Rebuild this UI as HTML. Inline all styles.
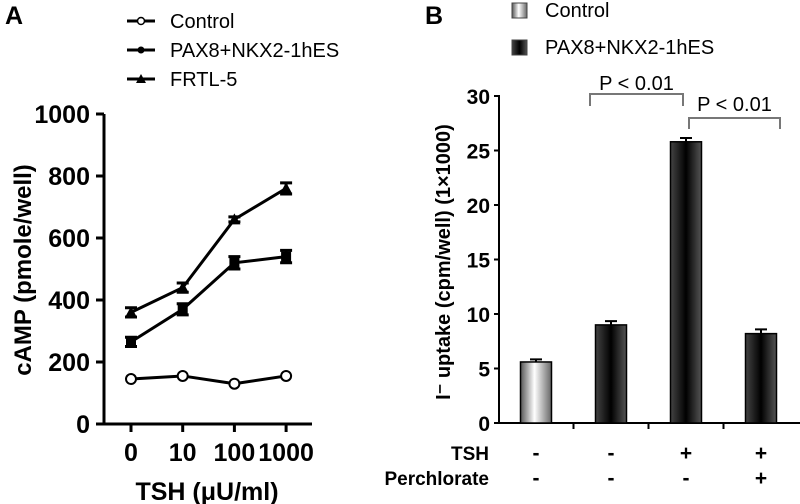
<!DOCTYPE html>
<html><head><meta charset="utf-8"><style>
body{margin:0;background:#fff;}
svg{display:block;font-family:"Liberation Sans",Arial,sans-serif;}
</style></head><body>
<svg id="s" width="800" height="504" viewBox="0 0 800 504">
<defs>
<linearGradient id="gc" x1="0" x2="1"><stop offset="0" stop-color="#555"/><stop offset="0.45" stop-color="#fff"/><stop offset="1" stop-color="#666"/></linearGradient>
<linearGradient id="gp" x1="0" x2="1"><stop offset="0" stop-color="#444"/><stop offset="0.5" stop-color="#000"/><stop offset="1" stop-color="#555"/></linearGradient>
</defs>
<text x="5" y="24" font-size="25" font-weight="bold">A</text>
<text x="425" y="24" font-size="25" font-weight="bold">B</text>
<g id="A"></g>
<g id="B"></g>
</svg>
<script>
const NS="http://www.w3.org/2000/svg";
function mk(p,t,a,txt){const e=document.createElementNS(NS,t);for(const k in a)e.setAttribute(k,a[k]);if(txt!=null)e.textContent=txt;p.appendChild(e);return e;}
// Panel A data
const xCats=["0","10","100","1000"];
const seriesNames=["Control","PAX8+NKX2-1hES","FRTL-5"];
const controlVals=[145,155,130,155];
const paxVals=[265,370,520,540];
const frtlVals=[360,440,660,760];
const paxErr=[15,18,20,20];
const frtlErr=[15,15,8,18];
const yTicksA=[0,200,400,600,800,1000];
// Panel B data
const barCats=["c1","c2","c3","c4"];
const barVals=[5.6,9.0,25.8,8.2];
const barErr=[0.15,0.25,0.25,0.3];
const barGroup=["control","pax","pax","pax"];
const tshSigns=["-","-","+","+"];
const perchSigns=["-","-","-","+"];
const yTicksB=[0,5,10,15,20,25,30];

const A=document.getElementById('A');
const yA=v=>424-v*0.31;
const xA=i=>131+i*51.7;
let el;
el=mk(A,'line',{x1:104,y1:114,x2:104,y2:425,stroke:'#000','stroke-width':3});

el=mk(A,'line',{x1:103,y1:424,x2:312,y2:424,stroke:'#000','stroke-width':3});

yTicksA.forEach(v=>{
 el=mk(A,'line',{x1:96,y1:yA(v),x2:104,y2:yA(v),stroke:'#000','stroke-width':3});
 
 el=mk(A,'text',{x:90,y:yA(v)+9,'font-size':25,'font-weight':'bold','text-anchor':'end'},String(v));
 
});
xCats.forEach((c,i)=>{
 el=mk(A,'line',{x1:xA(i),y1:424,x2:xA(i),y2:432,stroke:'#000','stroke-width':3});
 
 el=mk(A,'text',{x:xA(i),y:461,'font-size':25,'font-weight':'bold','text-anchor':'middle'},c);
 
});
el=mk(A,'text',{x:207,y:500,'font-size':25,'font-weight':'bold','text-anchor':'middle'},'TSH (\u03bcU/ml)');

el=mk(A,'text',{x:0,y:0,'font-size':24,'font-weight':'bold','text-anchor':'middle',transform:'translate(31,270) rotate(-90)'},'cAMP (pmole/well)');

function marker(g,kind,x,y){
 if(kind==0)return mk(g,'circle',{cx:x,cy:y,r:5,fill:'#fff',stroke:'#000','stroke-width':2});
 if(kind==1)return mk(g,'rect',{x:x-5,y:y-5,width:10,height:10,fill:'#000'});
 return mk(g,'polygon',{points:`${x-6},${y+5} ${x+6},${y+5} ${x},${y-6}`,fill:'#000'});
}
const allVals=[controlVals,paxVals,frtlVals],allErr=[null,paxErr,frtlErr];
allVals.forEach((vals,s)=>{
 const g=mk(A,'g',{});
 
 el=mk(g,'polyline',{points:vals.map((v,i)=>xA(i)+','+yA(v)).join(' '),fill:'none',stroke:'#000','stroke-width':3});
 
 vals.forEach((v,i)=>{
  if(allErr[s]){const e=allErr[s][i];
   el=mk(g,'path',{d:`M${xA(i)},${yA(v+e)}V${yA(v-e)}M${xA(i)-6},${yA(v+e)}h12M${xA(i)-6},${yA(v-e)}h12`,stroke:'#000','stroke-width':3,fill:'none'});
   }
  el=marker(g,s,xA(i),yA(v));
  
 });
});
seriesNames.forEach((n,s)=>{
 const y=21+s*29;
 const g=mk(A,'g',{});
 
 mk(g,'line',{x1:127,y1:y,x2:155,y2:y,stroke:'#000','stroke-width':3});
 if(s==0)mk(g,'circle',{cx:141,cy:y,r:3.5,fill:'#fff',stroke:'#000','stroke-width':1.5});
 else if(s==1)mk(g,'circle',{cx:141,cy:y,r:3.5,fill:'#000'});
 else mk(g,'polygon',{points:`136,${y+4} 146,${y+4} 141,${y-5}`,fill:'#000'});
 mk(g,'text',{x:170,y:y+7,'font-size':20},n);
});

// Panel B
const B=document.getElementById('B');
const yB=v=>423-v*10.9;
const xB=i=>536+i*75;
el=mk(B,'line',{x1:499,y1:95,x2:499,y2:424,stroke:'#000','stroke-width':2});

el=mk(B,'line',{x1:495,y1:423,x2:800,y2:423,stroke:'#000','stroke-width':2});

yTicksB.forEach(v=>{
 el=mk(B,'line',{x1:494,y1:yB(v),x2:499,y2:yB(v),stroke:'#000','stroke-width':2});
 
 el=mk(B,'text',{x:490,y:yB(v)+8,'font-size':21,'font-weight':'bold','text-anchor':'end'},String(v));
 
});
[0,1,2].forEach(i=>{el=mk(B,'line',{x1:xB(i)+37.5,y1:423,x2:xB(i)+37.5,y2:429,stroke:'#000','stroke-width':2});
 });
el=mk(B,'text',{x:0,y:0,'font-size':20,'font-weight':'bold','text-anchor':'middle',transform:'translate(450,262) rotate(-90)'},'I\u207B uptake (cpm/well) (1\u00d71000)');

barVals.forEach((v,i)=>{
 const x=xB(i)-15.5,e=barErr[i];
 el=mk(B,'path',{d:`M${xB(i)},${yB(v)}V${yB(v+e)-1}M${xB(i)-6},${yB(v+e)-1}h12`,stroke:'#000','stroke-width':2});
 
 el=mk(B,'rect',{x:x,y:yB(v),width:31,height:yB(0)-yB(v),fill:barGroup[i]=='control'?'url(#gc)':'url(#gp)',stroke:'#000','stroke-width':1.5});
 
 el=mk(B,'text',{x:xB(i),y:460,'font-size':21,'font-weight':'bold','text-anchor':'middle'},tshSigns[i]);
 
 el=mk(B,'text',{x:xB(i),y:485,'font-size':21,'font-weight':'bold','text-anchor':'middle'},perchSigns[i]);
 
});
el=mk(B,'text',{x:489,y:460,'font-size':19,'font-weight':'bold','text-anchor':'end'},'TSH');

el=mk(B,'text',{x:489,y:485,'font-size':19,'font-weight':'bold','text-anchor':'end'},'Perchlorate');

[[590,683,94,106,90],[689,780,118,129,111]].forEach(b=>{
 el=mk(B,'path',{d:`M${b[0]},${b[3]}V${b[2]}H${b[1]}V${b[3]}`,fill:'none',stroke:'#777','stroke-width':2});
 
 el=mk(B,'text',{x:(b[0]+b[1])/2,y:b[4],'font-size':20,'text-anchor':'middle'},'P < 0.01');
 
});
[['Control','url(#gc)',3],['PAX8+NKX2-1hES','url(#gp)',40]].forEach(l=>{
 const g=mk(B,'g',{});
 
 mk(g,'rect',{x:512,y:l[2],width:15,height:15,fill:l[1],stroke:'#444','stroke-width':1});
 mk(g,'text',{x:545,y:l[2]+14,'font-size':20},l[0]);
});
</script>
</body></html>
